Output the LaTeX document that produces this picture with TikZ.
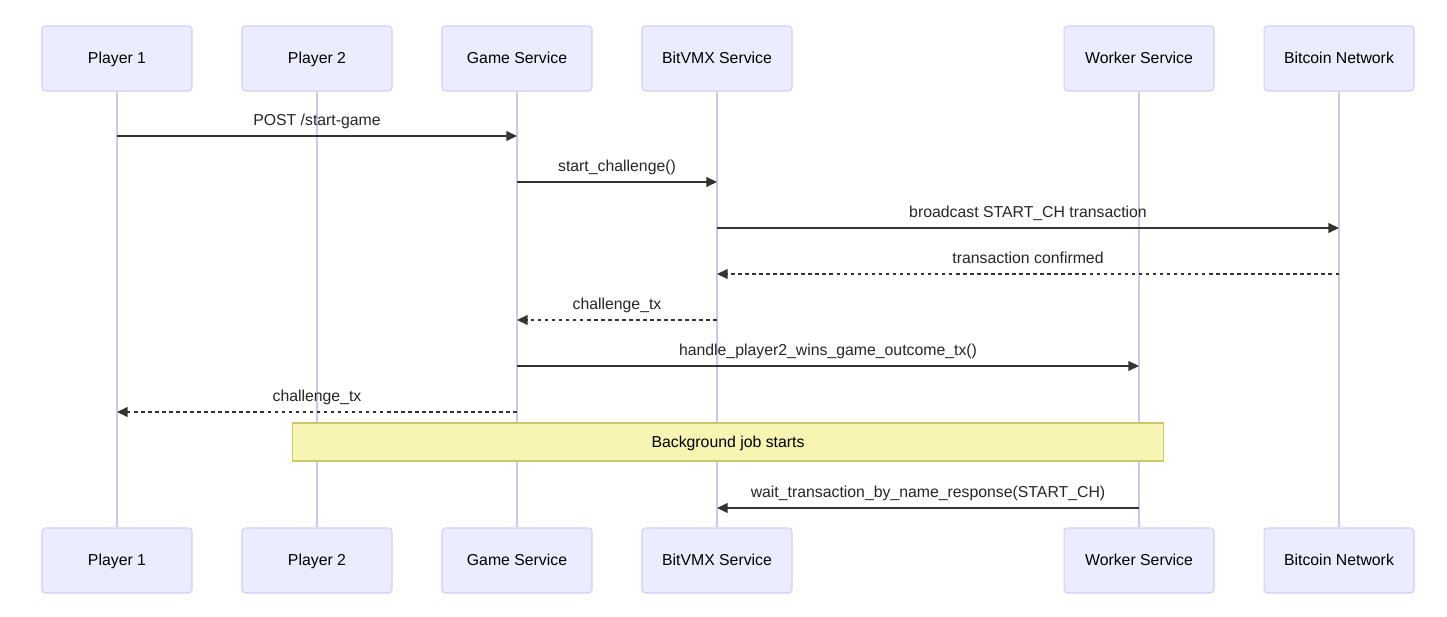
\documentclass[tikz,border=0pt]{standalone}
\usepackage{fontspec}
\setmainfont{Liberation Sans}
\usepackage{tikz}
\usetikzlibrary{arrows.meta}
\definecolor{actorfill}{RGB}{236,236,255}
\definecolor{actorline}{RGB}{210,205,245}
\definecolor{lifeline}{RGB}{206,198,238}
\definecolor{notefill}{RGB}{248,244,178}
\definecolor{noteline}{RGB}{200,200,110}
\definecolor{msgline}{RGB}{51,51,51}
\tikzstyle{actor} = [rectangle, rounded corners=2pt, minimum width=3cm, minimum height=1.3cm, line width=0.6pt, draw=actorline, fill=actorfill, text centered, text height=1.6ex, text depth=0.45ex, font=\fontsize{9}{11}\selectfont]
\tikzstyle{life} = [line width=0.8pt, draw=lifeline]
\tikzstyle{msg} = [line width=0.8pt, draw=msgline, -{Triangle[length=6pt,width=5.5pt]}]
\tikzstyle{reply} = [msg, dash pattern=on 2pt off 2pt]
\tikzstyle{lbl} = [midway, yshift=0.32cm, text=black!85, text height=1.6ex, text depth=0.45ex, font=\fontsize{9}{11}\selectfont]
\tikzstyle{note} = [rectangle, line width=0.6pt, draw=noteline, fill=notefill, text height=1.6ex, text depth=0.45ex, font=\fontsize{9}{11}\selectfont]
\begin{document}
\begin{tikzpicture}[x=0.02cm, y=-0.02cm]
     \useasboundingbox[fill=white] (0, 0) rectangle (1447, 617);
     % participants, top and bottom
     \node (p1)  at (117, 58.5)  [actor] {Player 1};
     \node (p2)  at (317, 58.5)  [actor] {Player 2};
     \node (gs)  at (517, 58.5)  [actor] {Game Service};
     \node (bv)  at (717, 58.5)  [actor] {BitVMX Service};
     \node (ws)  at (1139, 58.5) [actor] {Worker Service};
     \node (btc) at (1339, 58.5) [actor] {Bitcoin Network};
     \node (p1b)  at (117, 560.5)  [actor] {Player 1};
     \node (p2b)  at (317, 560.5)  [actor] {Player 2};
     \node (gsb)  at (517, 560.5)  [actor] {Game Service};
     \node (bvb)  at (717, 560.5)  [actor] {BitVMX Service};
     \node (wsb)  at (1139, 560.5) [actor] {Worker Service};
     \node (btcb) at (1339, 560.5) [actor] {Bitcoin Network};
     % lifelines
     \foreach \a/\b in {p1/p1b, p2/p2b, gs/gsb, bv/bvb, ws/wsb, btc/btcb}
        \draw[life] (\a.south) -- (\b.north);
     % messages
     \draw[msg]   (p1 |- 0, 136) -- (gs |- 0, 136)  node[lbl] {POST /start-game};
     \draw[msg]   (gs |- 0, 182) -- (bv |- 0, 182)  node[lbl] {start\_challenge()};
     \draw[msg]   (bv |- 0, 228) -- (btc |- 0, 228) node[lbl] {broadcast START\_CH transaction};
     \draw[reply] (btc |- 0, 274) -- (bv |- 0, 274) node[lbl] {transaction confirmed};
     \draw[reply] (bv |- 0, 320) -- (gs |- 0, 320)  node[lbl] {challenge\_tx};
     \draw[msg]   (gs |- 0, 366) -- (ws |- 0, 366)  node[lbl] {handle\_player2\_wins\_game\_outcome\_tx()};
     \draw[reply] (gs |- 0, 412) -- (p1 |- 0, 412)  node[lbl] {challenge\_tx};
     \node (bgjob) at (728, 442) [note, minimum width=17.44cm, minimum height=0.76cm] {Background job starts};
     \draw[msg]   (ws |- 0, 508) -- (bv |- 0, 508)  node[lbl] {wait\_transaction\_by\_name\_response(START\_CH)};
\end{tikzpicture}
\end{document}
